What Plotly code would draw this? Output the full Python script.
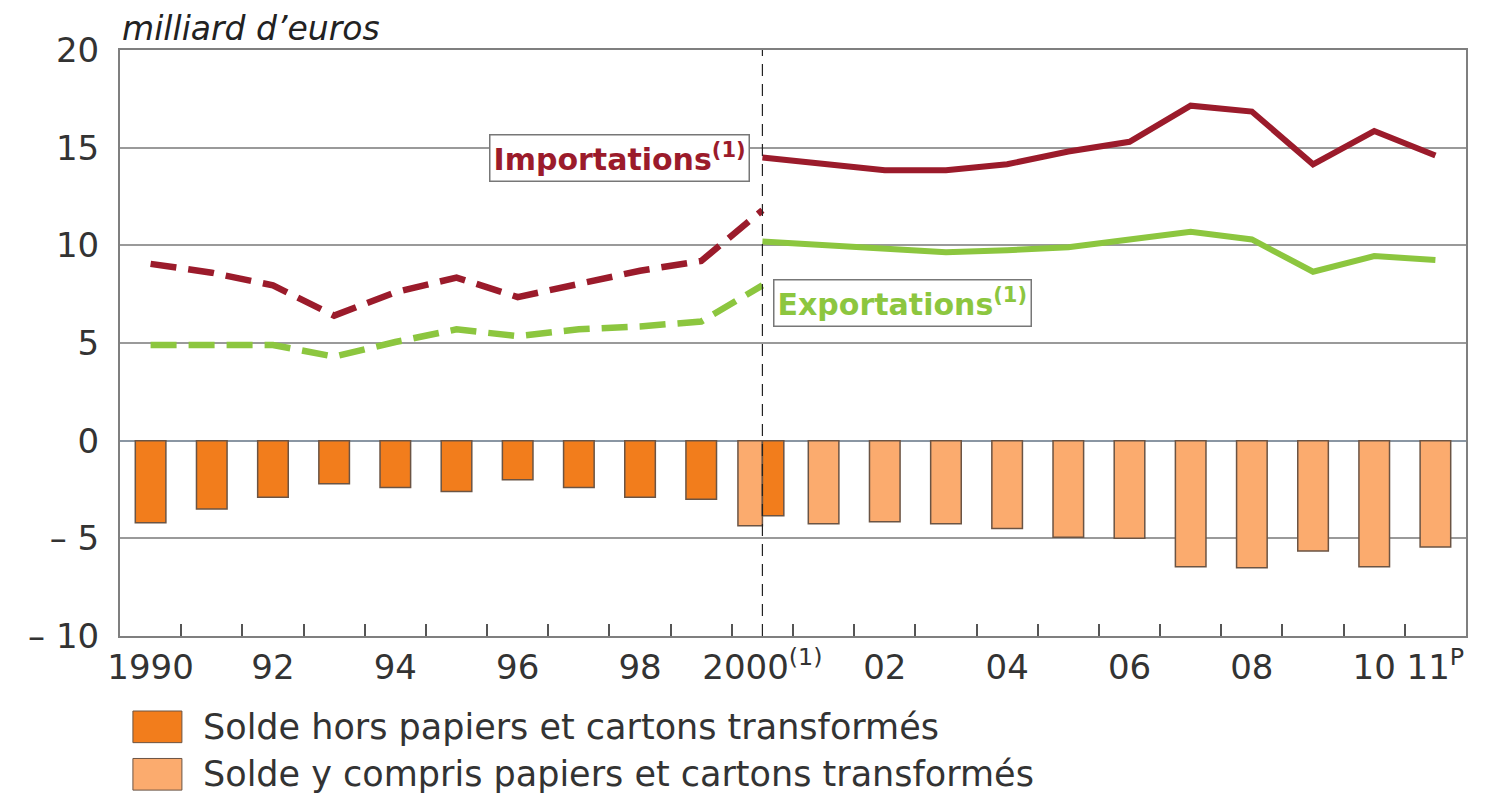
import plotly.graph_objects as go

years_old = list(range(1990, 2001))
years_new = list(range(2000, 2012))

imports_old = [9.05, 8.6, 7.95, 6.4, 7.6, 8.35, 7.35, 8.0, 8.7, 9.2, 11.8]
imports_new = [14.5, 14.2, 13.85, 13.85, 14.15, 14.8, 15.3, 17.15, 16.85, 14.15, 15.85, 14.6]
exports_old = [4.9, 4.9, 4.9, 4.3, 5.05, 5.7, 5.35, 5.7, 5.85, 6.1, 7.95]
exports_new = [10.2, 10.0, 9.8, 9.65, 9.75, 9.9, 10.3, 10.7, 10.3, 8.65, 9.45, 9.25]
solde_hors = [-4.2, -3.5, -2.9, -2.2, -2.4, -2.6, -2.0, -2.4, -2.9, -3.0, -3.85]
solde_y = [-4.35, -4.25, -4.15, -4.25, -4.5, -4.95, -5.0, -6.45, -6.5, -5.65, -6.45, -5.45]

tick_vals = [1990, 1992, 1994, 1996, 1998, 2000, 2002, 2004, 2006, 2008, 2010, 2011]
tick_text = ["1990", "92", "94", "96", "98", "2000<sup>(1)</sup>", "02", "04", "06", "08", "10", "11<sup>P</sup>"]
y_vals = [-10, -5, 0, 5, 10, 15, 20]
y_text = ["\u2013 10", "\u2013 5", "0", "5", "10", "15", "20"]

label_imp = "Importations<sup>(1)</sup>"
label_exp = "Exportations<sup>(1)</sup>"
legend_hors = "Solde hors papiers et cartons transformés"
legend_y = "Solde y compris papiers et cartons transformés"
unit = "milliard d\u2019euros"

C_DARK = "#f27d1c"
C_LIGHT = "#fbab6e"
C_IMP = "#9b1b2b"
C_EXP = "#8cc63f"
C_EDGE = "#6b5444"
FONT = "DejaVu Sans"

fig = go.Figure()

n_old = len(years_old)
fig.add_trace(go.Bar(
    x=years_new, y=solde_y,
    width=[0.4] + [0.5] * (len(years_new) - 1),
    offset=[-0.4] + [-0.25] * (len(years_new) - 1),
    marker=dict(color=C_LIGHT, line=dict(color=C_EDGE, width=1.5)),
    showlegend=False,
))
fig.add_trace(go.Bar(
    x=years_old, y=solde_hors,
    width=[0.5] * (n_old - 1) + [0.35],
    offset=[-0.25] * (n_old - 1) + [0.0],
    marker=dict(color=C_DARK, line=dict(color=C_EDGE, width=1.5)),
    showlegend=False,
))

fig.add_trace(go.Scatter(x=years_old, y=imports_old, mode="lines",
                         line=dict(color=C_IMP, width=6.5, dash="26px,12px"), showlegend=False))
fig.add_trace(go.Scatter(x=years_new, y=imports_new, mode="lines",
                         line=dict(color=C_IMP, width=6), showlegend=False))
fig.add_trace(go.Scatter(x=years_old, y=exports_old, mode="lines",
                         line=dict(color=C_EXP, width=6.5, dash="26px,12px"), showlegend=False))
fig.add_trace(go.Scatter(x=years_new, y=exports_new, mode="lines",
                         line=dict(color=C_EXP, width=6), showlegend=False))

# vertical dashed separator at 2000
fig.add_shape(type="line", xref="x", yref="paper", x0=2000, x1=2000, y0=0, y1=1,
              line=dict(color="#222222", width=1.2, dash="12px,8px"), layer="above")

# series labels
fig.add_annotation(x=1999.8, y=14.45, xref="x", yref="y", text=label_imp, showarrow=False,
                   xanchor="right", yanchor="middle",
                   font=dict(family=FONT, size=30, color=C_IMP, weight="bold"),
                   bgcolor="white", bordercolor="#777777", borderwidth=1.5, borderpad=3)
fig.add_annotation(x=2000.18, y=7.05, xref="x", yref="y", text=label_exp, showarrow=False,
                   xanchor="left", yanchor="middle",
                   font=dict(family=FONT, size=30, color=C_EXP, weight="bold"),
                   bgcolor="white", bordercolor="#777777", borderwidth=1.5, borderpad=3)

# unit label
fig.add_annotation(x=0.0, y=1.0, xref="paper", yref="paper", text=unit, showarrow=False,
                   xanchor="left", yanchor="bottom", yshift=0,
                   font=dict(family=FONT, size=33, color="#222222", style="italic"))

# custom legend
legend_rows = [(legend_hors, C_DARK, -0.155), (legend_y, C_LIGHT, -0.236)]
for text, col, yc in legend_rows:
    fig.add_shape(type="rect", xref="paper", yref="paper",
                  x0=0.0096, x1=0.046, y0=yc - 0.027, y1=yc + 0.027,
                  fillcolor=col, line=dict(color=C_EDGE, width=1))
    fig.add_annotation(x=0.06, y=yc, xref="paper", yref="paper", text=text, showarrow=False,
                       xanchor="left", yanchor="middle",
                       font=dict(family=FONT, size=35, color="#333333"))

fig.update_layout(
    width=1469, height=786,
    margin=dict(l=112, r=9, t=42, b=158),
    paper_bgcolor="white", plot_bgcolor="white",
    barmode="overlay",
    font=dict(family=FONT, size=34, color="#333333"),
    xaxis=dict(
        range=[1989.5, 2011.5],
        tickmode="array", tickvals=tick_vals, ticktext=tick_text,
        ticks="", showgrid=False, zeroline=False,
        showline=True, linecolor="#7f7f7f", linewidth=2, mirror=True,
        tickfont=dict(family=FONT, size=34, color="#333333"),
        minor=dict(tickmode="array", tickvals=[y + 0.5 for y in range(1990, 2011)],
                   ticks="inside", ticklen=12, tickwidth=1.5, tickcolor="#555555", showgrid=False),
    ),
    yaxis=dict(
        range=[-10, 20],
        tickmode="array", tickvals=y_vals, ticktext=y_text,
        ticks="", showgrid=True, gridcolor="#9a9a9a", gridwidth=2,
        zeroline=True, zerolinecolor="#8a96a3", zerolinewidth=2,
        showline=True, linecolor="#7f7f7f", linewidth=2, mirror=True,
        tickfont=dict(family=FONT, size=34, color="#333333"),
        ticklabelstandoff=12,
    ),
)

fig.write_html("out.html")
